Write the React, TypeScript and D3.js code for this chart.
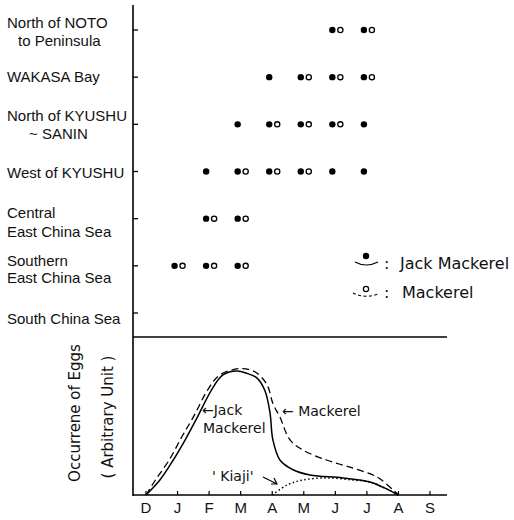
import * as d3 from 'd3';

const months = ['D', 'J', 'F', 'M', 'A', 'M', 'J', 'J', 'A', 'S'];

const areas = [
  'North of NOTO to Peninsula',
  'WAKASA Bay',
  'North of KYUSHU ~ SANIN',
  'West of KYUSHU',
  'Central East China Sea',
  'Southern East China Sea',
  'South China Sea',
];

const areaLines = [
  ['North of NOTO', 'to Peninsula'],
  ['WAKASA  Bay'],
  ['North of KYUSHU', '~ SANIN'],
  ['West of KYUSHU'],
  ['Central', 'East China Sea'],
  ['Southern', 'East China Sea'],
  ['South China Sea'],
];

// month index where eggs were found, per area
const jackMonths = [[6, 7], [4, 5, 6, 7], [3, 4, 5, 6, 7], [2, 3, 4, 5, 6, 7], [2, 3], [1, 2, 3], []];
const mackerelMonths = [[6, 7], [5, 6, 7], [4, 5, 6], [3, 4, 5], [2, 3], [1, 2, 3], []];

// occurrence curves: [month index, arbitrary unit]
const jackCurve = [
  [0, 0], [0.44, 9.5], [0.86, 22], [1.3, 37], [1.62, 49], [2.12, 68], [2.44, 76],
  [2.88, 78.5], [3.2, 77], [3.52, 74], [3.77, 66], [3.93, 52], [4.02, 35],
  [4.25, 22], [4.66, 16], [5.2, 12.7], [6.24, 10.8], [7.1, 8.2], [7.5, 5], [8, 0],
];
const mackerelCurve = [
  [0, 0], [0.3, 9.5], [0.73, 22], [1.14, 37], [1.49, 49], [2.0, 68], [2.34, 76],
  [2.98, 80], [3.45, 78], [3.83, 70], [4.02, 58], [4.25, 49], [4.56, 35],
  [4.97, 28.5], [5.74, 22], [6.56, 17], [7.32, 11.4], [7.83, 3.2], [8, 0],
];
const kiajiCurve = [
  [4, 0], [4.47, 6.3], [4.97, 9.5], [5.74, 10.8], [6.56, 9.5], [7.1, 8.2], [7.5, 5], [8, 0],
];

const W = 514;
const H = 520;
const axisX = 133;
const rightX = 447;
const font = 'Liberation Sans, Arial, sans-serif';
const font2 = 'DejaVu Sans, sans-serif';

// label layout: [x, dy] per line
const lineLayout = [
  [[7, -2], [18, 16]],
  [[7, 5]],
  [[7, -3], [29, 15]],
  [[7, 6]],
  [[7, -1], [7, 18]],
  [[7, 0], [7, 17]],
  [[7, 11]],
];

export default function App() {
  const x = d3.scaleLinear().domain([0, 9]).range([146, 430]);
  const yArea = d3.scalePoint<string>().domain(areas).range([30, 313]);
  const y = d3.scaleLinear().domain([0, 100]).range([495, 337]);

  const line = d3
    .line<number[]>()
    .x((d) => x(d[0]))
    .y((d) => y(d[1]))
    .curve(d3.curveCatmullRom.alpha(0.5));

  return (
    <svg
      width={W}
      height={H}
      style={{ position: 'absolute', left: 0, top: 0, background: '#fff' }}
      fontFamily={font}
    >
      <rect width={W} height={H} fill="#fff" />
      {/* frame */}
      <line x1={axisX} x2={axisX} y1={5} y2={496} stroke="#000" strokeWidth={1.6} />
      <line x1={axisX} x2={rightX} y1={337} y2={337} stroke="#000" strokeWidth={1.6} />
      <line x1={axisX} x2={rightX} y1={495} y2={495} stroke="#000" strokeWidth={1.6} />

      {/* area ticks and labels */}
      {areas.map((a, i) => (
        <g key={a}>
          <line x1={axisX} x2={axisX + 5} y1={yArea(a)} y2={yArea(a)} stroke="#000" strokeWidth={1.3} />
          {areaLines[i].map((t, j) => (
            <text
              key={j}
              x={lineLayout[i][j][0]}
              y={(yArea(a) as number) + lineLayout[i][j][1]}
              fontSize={15}
              fill="#111"
            >
              {t}
            </text>
          ))}
        </g>
      ))}

      {/* dots */}
      {areas.map((a, i) => (
        <g key={'d' + a}>
          {jackMonths[i].map((m) => (
            <circle key={'j' + m} cx={x(m) - 3} cy={yArea(a)} r={3.2} fill="#000" />
          ))}
          {mackerelMonths[i].map((m) => (
            <circle
              key={'m' + m}
              cx={x(m) + 5}
              cy={yArea(a)}
              r={2.6}
              fill="#fff"
              stroke="#000"
              strokeWidth={1.3}
            />
          ))}
        </g>
      ))}

      {/* legend */}
      <g fontSize={16} fill="#111" fontFamily={font2}>
        <circle cx={366} cy={256} r={3.2} fill="#000" />
        <path d="M355,262 Q366,268 378,262" fill="none" stroke="#000" strokeWidth={1.2} />
        <text x={384} y={269}>:</text>
        <text x={400} y={269}>Jack Mackerel</text>
        <circle cx={366} cy={289} r={2.6} fill="#fff" stroke="#000" strokeWidth={1.2} />
        <path
          d="M353,293 Q365,299 378,294"
          fill="none"
          stroke="#000"
          strokeWidth={1.2}
          strokeDasharray="3,2.5"
        />
        <text x={384} y={298}>:</text>
        <text x={402} y={298}>Mackerel</text>
      </g>

      {/* month ticks and labels */}
      {months.map((m, i) => (
        <g key={'x' + i}>
          <line x1={x(i)} x2={x(i)} y1={495} y2={491} stroke="#000" strokeWidth={1.2} />
          <text x={x(i)} y={513} textAnchor="middle" fontSize={15} fill="#111">
            {m}
          </text>
        </g>
      ))}

      {/* curves */}
      <path d={line(mackerelCurve) as string} fill="none" stroke="#000" strokeWidth={1.3} strokeDasharray="7,4" />
      <path d={line(jackCurve) as string} fill="none" stroke="#000" strokeWidth={1.5} />
      <path d={line(kiajiCurve) as string} fill="none" stroke="#000" strokeWidth={1.5} strokeDasharray="1.5,2.5" />

      {/* annotations */}
      <g fontSize={14} fill="#111" fontFamily={font2}>
        <text x={202} y={415}>←Jack</text>
        <text x={203} y={433}>Mackerel</text>
        <text x={282} y={416}>← Mackerel</text>
        <text x={212} y={481}>' Kiaji'</text>
        <path d="M263,477 L277,484 M271,484 L277,484 L274,478" fill="none" stroke="#000" strokeWidth={1.2} />
      </g>

      {/* y axis title */}
      <g fontSize={15} fill="#111" fontFamily={font2}>
        <text transform="translate(80,413) rotate(-90)" textAnchor="middle">
          Occurrene of Eggs
        </text>
        <text transform="translate(113,417) rotate(-90)" textAnchor="middle">
          ( Arbitrary Unit )
        </text>
      </g>
    </svg>
  );
}
